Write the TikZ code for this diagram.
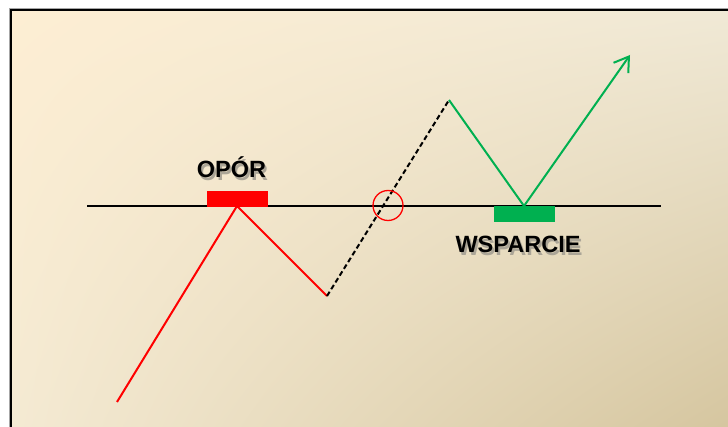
\documentclass[tikz,border=0pt]{standalone}
\usepackage{fontspec}
\setmainfont{Liberation Sans}
\usetikzlibrary{arrows.meta,shadings}
\definecolor{bgTL}{HTML}{FDEED3}
\definecolor{bgTR}{HTML}{F0E9D6}
\definecolor{bgBL}{HTML}{F4EAD3}
\definecolor{bgBR}{HTML}{D4C49D}
\definecolor{resred}{HTML}{FF0000}
\definecolor{supgreen}{HTML}{00B050}
\definecolor{textshadow}{HTML}{ABA597}
% bold caption with a grey drop shadow set in the same box
\newcommand{\shadowtext}[1]{%
  \makebox[0pt][l]{\hspace{2pt}\raisebox{-2.5pt}{\textcolor{textshadow}{#1}}}#1}
\tikzset{
  level/.style={line width=2pt, black},
  redleg/.style={line width=2pt, resred},
  greenleg/.style={line width=2pt, supgreen},
  breakout/.style={line width=2pt, black, dash pattern=on 5pt off 3pt},
  zone/.style={draw=none, minimum height=16pt, minimum width=61pt, inner sep=0pt},
  label/.style={font=\fontsize{23.5}{27}\selectfont\bfseries, inner sep=0pt, anchor=base}
}
\begin{document}
\begin{tikzpicture}[x=1pt,y=-1pt]
  \useasboundingbox (0,0) rectangle (728,427);
  \fill[white] (0,0) rectangle (728,427);
  % panel background
  \shade[upper left=bgTL, upper right=bgTR, lower left=bgBL, lower right=bgBR]
    (11,10) rectangle (740,440);
  % panel frame
  \draw[gray!70, line width=3.5pt] (10.5,440) -- (10.5,9.5) -- (740,9.5);
  \draw[black, line width=2.5pt] (11,440) -- (11,10) -- (740,10);

  % key points
  \coordinate (start) at (117,402);
  \coordinate (peak) at (237,206);
  \coordinate (dip) at (327,296);
  \coordinate (high) at (449,100);
  \coordinate (retest) at (524,206);
  \coordinate (target) at (630,55);
  \coordinate (lvlL) at (87,206);
  \coordinate (lvlR) at (661,206);

  % resistance / support level
  \draw[level] (lvlL) -- (lvlR);

  % zones
  \node[zone, fill=resred, anchor=south] (res) at (237.5,207) {};
  \node[zone, fill=supgreen, anchor=north] (sup) at (524.5,205.5) {};

  % price path
  \draw[redleg, line join=miter] (start) -- (peak) -- (dip);
  \draw[breakout] (dip) -- (high);
  \draw[greenleg, line join=miter, -{Straight Barb[length=14pt, width=18pt, line width=2pt]}]
    (high) -- (retest) -- (target);

  % breakout marker
  \node[circle, draw=resred, line width=1.3pt, minimum size=30pt, inner sep=0pt] (cross) at (388,205.5) {};

  % labels
  \node[label] (oporlbl) at (231.5,178) {\shadowtext{OPÓR}};
  \node[label] (wsplbl) at (518,253) {\shadowtext{WSPARCIE}};
\end{tikzpicture}
\end{document}
